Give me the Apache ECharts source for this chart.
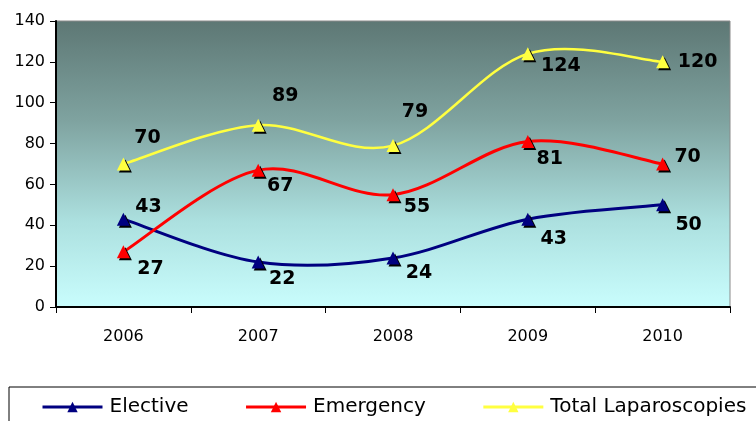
<!DOCTYPE html>
<html>
<head>
<meta charset="utf-8">
<script src="https://cdn.jsdelivr.net/npm/echarts@6/dist/echarts.min.js"></script>
<style>html,body{margin:0;padding:0;background:#fff}#c{width:756px;height:421px}</style>
</head>
<body>
<div id="c"></div>
<script>
var years = ['2006', '2007', '2008', '2009', '2010'];
var elective = [43, 22, 24, 43, 50];
var emergency = [27, 67, 55, 81, 70];
var totalLap = [70, 89, 79, 124, 120];
var yTicks = {min: 0, max: 140, interval: 20};

var electiveOffsets = [[25, -12], [24, 17], [26, 15], [26, 20], [26, 20]];
var emergencyOffsets = [[27, 17], [22, 16], [24, 12], [22, 18], [25, -7]];
var totalOffsets = [[24, -26], [27, -29], [22, -34], [33, 12], [35, 0]];

var COLORS = {Elective: '#000080', Emergency: '#ff0000', Total: '#ffff40'};
var FONT = '"DejaVu Sans", Verdana, sans-serif';

function mkData(vals, offs) {
  return vals.map(function (v, i) {
    return {value: v, label: {offset: offs[i]}};
  });
}

function mkPointSeries(name, vals, offs, color) {
  return {
    name: name,
    type: 'line',
    z: 5,
    data: mkData(vals, offs),
    symbol: 'triangle',
    symbolSize: 13,
    lineStyle: {color: color, opacity: 0},
    itemStyle: {color: color, shadowColor: '#000', shadowOffsetX: 2, shadowOffsetY: 2, shadowBlur: 0},
    label: {
      show: true, position: 'inside', align: 'center', verticalAlign: 'middle',
      color: '#000', fontFamily: FONT, fontWeight: 'bold', fontSize: 19
    },
    emphasis: {disabled: true}
  };
}

// Excel-like smoothed curve (Catmull-Rom style bezier), positions from the axes via api.coord
function mkCurveSeries(vals, color, width) {
  return {
    type: 'custom',
    z: 3,
    silent: true,
    data: vals.map(function (v, i) { return [i, v]; }),
    renderItem: function (params, api) {
      var i = params.dataIndex;
      var n = vals.length;
      if (i >= n - 1) return null;
      function P(k) {
        k = Math.max(0, Math.min(n - 1, k));
        return api.coord([k, vals[k]]);
      }
      var p0 = P(i - 1), p1 = P(i), p2 = P(i + 1), p3 = P(i + 2);
      return {
        type: 'bezierCurve',
        shape: {
          x1: p1[0], y1: p1[1],
          cpx1: p1[0] + (p2[0] - p0[0]) / 6, cpy1: p1[1] + (p2[1] - p0[1]) / 6,
          cpx2: p2[0] - (p3[0] - p1[0]) / 6, cpy2: p2[1] - (p3[1] - p1[1]) / 6,
          x2: p2[0], y2: p2[1]
        },
        style: {stroke: color, lineWidth: width, fill: null, lineCap: 'round'}
      };
    }
  };
}

var chart = echarts.init(document.getElementById('c'), null, {renderer: 'canvas'});
chart.setOption({
  animation: false,
  grid: {
    left: 56, top: 21, right: 26, bottom: 114,
    show: true, borderColor: '#8a8a8a', borderWidth: 1,
    backgroundColor: {
      type: 'linear', x: 0, y: 0, x2: 0, y2: 1,
      colorStops: [
        {offset: 0, color: '#5d7774'},
        {offset: 0.35, color: '#7fa3a0'},
        {offset: 0.7, color: '#ace0df'},
        {offset: 1, color: '#c9fdfd'}
      ]
    }
  },
  legend: {
    left: 9, top: 387, width: 1200, orient: 'horizontal',
    padding: [10, 80, 30, 32],
    borderColor: '#000', borderWidth: 1,
    itemGap: 56, itemWidth: 60, itemHeight: 13,
    textStyle: {color: '#000', fontFamily: FONT, fontSize: 20, padding: [0, 0, 0, 2]},
    data: [
      {name: 'Elective', lineStyle: {color: COLORS.Elective, width: 3, opacity: 1}},
      {name: 'Emergency', lineStyle: {color: COLORS.Emergency, width: 3, opacity: 1}},
      {name: 'Total Laparoscopies', lineStyle: {color: COLORS.Total, width: 3, opacity: 1}}
    ]
  },
  xAxis: {
    type: 'category', data: years, boundaryGap: true,
    axisLine: {lineStyle: {color: '#000', width: 2}},
    axisTick: {show: true, length: 6, lineStyle: {color: '#000'}},
    axisLabel: {color: '#000', fontFamily: FONT, fontSize: 16, margin: 22}
  },
  yAxis: {
    type: 'value', min: yTicks.min, max: yTicks.max, interval: yTicks.interval,
    axisLine: {show: true, lineStyle: {color: '#000', width: 2}},
    axisTick: {show: true, length: 6, lineStyle: {color: '#000'}},
    splitLine: {show: false},
    axisLabel: {color: '#000', fontFamily: FONT, fontSize: 16, margin: 11}
  },
  series: [
    mkCurveSeries(elective, COLORS.Elective, 3),
    mkCurveSeries(emergency, COLORS.Emergency, 3),
    mkCurveSeries(totalLap, COLORS.Total, 2.5),
    mkPointSeries('Elective', elective, electiveOffsets, COLORS.Elective),
    mkPointSeries('Emergency', emergency, emergencyOffsets, COLORS.Emergency),
    mkPointSeries('Total Laparoscopies', totalLap, totalOffsets, COLORS.Total)
  ]
});
</script>
</body>
</html>
